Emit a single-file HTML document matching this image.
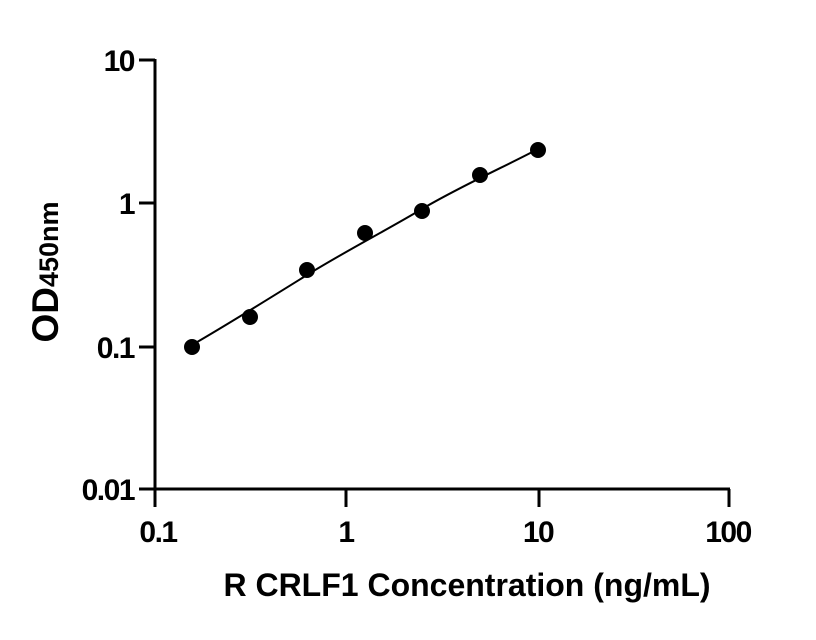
<!DOCTYPE html>
<html><head><style>
body{margin:0;background:#fff;}
svg{display:block;font-family:"Liberation Sans",Arial,sans-serif;font-weight:bold;}
</style></head><body>
<svg width="816" height="640" viewBox="0 0 816 640">
<g stroke="#000" stroke-width="3" fill="none">
<line x1="155" y1="59" x2="155" y2="490"/>
<line x1="154" y1="489" x2="730" y2="489"/>
<line x1="139" y1="60" x2="155" y2="60"/>
<line x1="139" y1="203" x2="155" y2="203"/>
<line x1="139" y1="347" x2="155" y2="347"/>
<line x1="139" y1="489" x2="155" y2="489"/>
<line x1="155" y1="489" x2="155" y2="507"/>
<line x1="346" y1="489" x2="346" y2="507"/>
<line x1="539" y1="489" x2="539" y2="507"/>
<line x1="729" y1="489" x2="729" y2="507"/>
</g>
<path d="M192,345 C230,323 270,298 307,275 S385,231 422,209 S510,164 538,149" stroke="#000" stroke-width="2" fill="none"/>
<g fill="#000">
<ellipse cx="192" cy="347" rx="8" ry="8"/>
<ellipse cx="250" cy="317" rx="8" ry="8"/>
<ellipse cx="307" cy="270" rx="8" ry="8"/>
<ellipse cx="365" cy="233" rx="8" ry="8"/>
<ellipse cx="422" cy="211" rx="8" ry="8"/>
<ellipse cx="480" cy="175" rx="8" ry="8"/>
<ellipse cx="538" cy="150" rx="8" ry="8"/>
</g>
<g font-size="30" text-anchor="end" letter-spacing="-1.5">
<text x="134" y="71">10</text>
<text x="134" y="214">1</text>
<text x="134" y="358">0.1</text>
<text x="134" y="500">0.01</text>
</g>
<g font-size="30" text-anchor="middle" letter-spacing="-1.5">
<text x="158" y="542">0.1</text>
<text x="346" y="542">1</text>
<text x="538" y="542">10</text>
<text x="728" y="542">100</text>
</g>
<text x="467" y="596" font-size="32" text-anchor="middle">R CRLF1 Concentration (ng/mL)</text>
<text transform="translate(58,272) rotate(-90)" text-anchor="middle"><tspan font-size="37">OD</tspan><tspan font-size="27">450nm</tspan></text>
</svg>
</body></html>
